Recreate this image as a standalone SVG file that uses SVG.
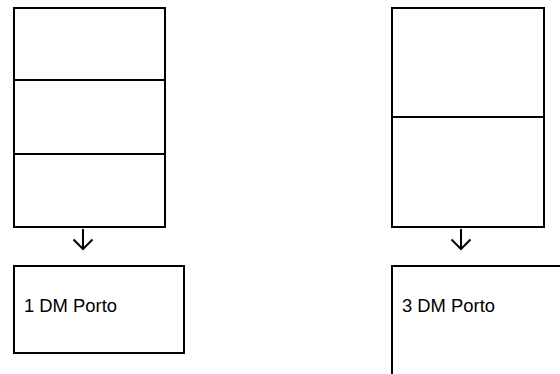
<svg xmlns="http://www.w3.org/2000/svg" width="560" height="374" viewBox="0 0 560 374">
<style>
.box{fill:#fff;stroke:#000;stroke-width:2}
.div{stroke:#000;stroke-width:2}
.lbl{font-family:"Liberation Sans",Arial,sans-serif;font-size:18.4px;fill:#000}
.conn{stroke:#000;stroke-width:2;fill:none}
</style>
<rect width="560" height="374" fill="#fff"/>
<g id="stack1">
<rect class="box" x="14" y="8" width="151" height="219"/>
<line class="div" x1="14" y1="80" x2="165" y2="80"/>
<line class="div" x1="14" y1="154" x2="165" y2="154"/>
</g>
<g id="stack2">
<rect class="box" x="392" y="8" width="152" height="219"/>
<line class="div" x1="392" y1="117" x2="544" y2="117"/>
</g>
<g id="node1">
<rect class="box" x="14" y="266" width="170" height="87"/>
<text class="lbl" x="24" y="311.5">1 DM Porto</text>
</g>
<g id="node3">
<path class="conn" d="M392,376 V266 H562"/>
<text class="lbl" x="402" y="311.5">3 DM Porto</text>
</g>
<g id="connectors">
<path class="conn" d="M83,229 V249 M73.5,239.5 L83,249 L92.5,239.5"/>
<path class="conn" d="M461,229 V249 M451.5,239.5 L461,249 L470.5,239.5"/>
</g>
</svg>
